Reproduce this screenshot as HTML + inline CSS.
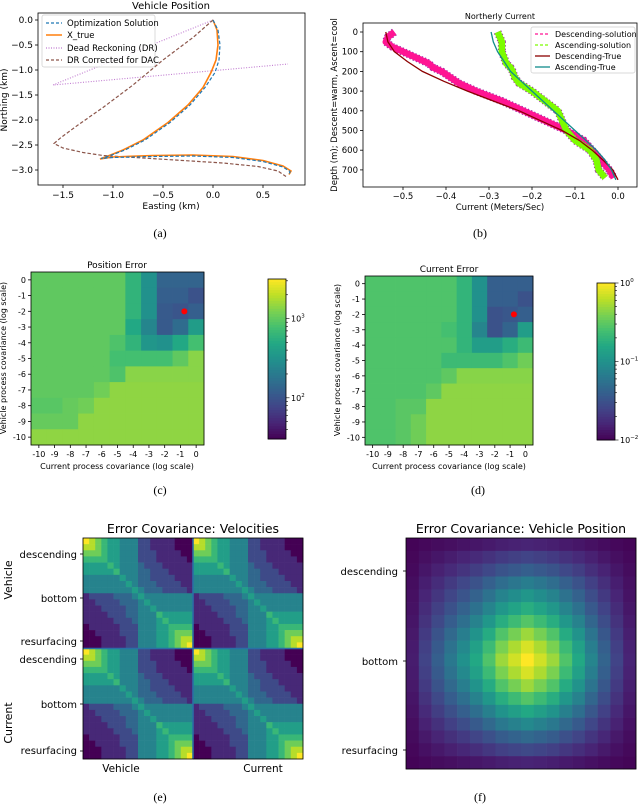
<!DOCTYPE html>
<html><head><meta charset="utf-8"><style>
body{margin:0;background:#fff}
svg{display:block;font-family:"DejaVu Sans","Liberation Sans",sans-serif}
.cap{font-family:"Liberation Serif",serif;font-size:12px}
</style></head><body>
<svg id="fig" width="640" height="806" viewBox="0 0 640 806">
<rect width="640" height="806" fill="#fff"/>
<!-- panel a -->
<g id="pa">
<text x="171" y="9" font-size="10" text-anchor="middle">Vehicle Position</text>
<g id="pa-marks"></g>
<rect x="38" y="13" width="267" height="172" fill="none" stroke="#000" stroke-width="0.8"/>
<g id="pa-ticks" font-size="9"></g>
<text x="171" y="209" font-size="9" text-anchor="middle">Easting (km)</text>
<text transform="translate(7,100) rotate(-90)" font-size="9" text-anchor="middle">Northing (km)</text>
<g>
<rect x="42" y="15" width="113" height="52" fill="#fff" fill-opacity="0.85" stroke="#ccc" stroke-width="0.7" rx="2"/>
<line x1="46" y1="23" x2="62" y2="23" stroke="#1f77b4" stroke-width="1.2" stroke-dasharray="3,2"/>
<text x="67" y="26" font-size="8.5">Optimization Solution</text>
<line x1="46" y1="35" x2="62" y2="35" stroke="#ff7f0e" stroke-width="1.5"/>
<text x="67" y="38" font-size="8.5">X_true</text>
<line x1="46" y1="48" x2="62" y2="48" stroke="#c07ad0" stroke-width="1.2" stroke-dasharray="1,1.5"/>
<text x="67" y="51" font-size="8.5">Dead Reckoning (DR)</text>
<line x1="46" y1="60" x2="62" y2="60" stroke="#8c564b" stroke-width="1.2" stroke-dasharray="3,2"/>
<text x="67" y="63" font-size="8.5">DR Corrected for DAC</text>
</g>
</g>
<text class="cap" x="160" y="237" text-anchor="middle">(a)</text>

<!-- panel b -->
<g id="pb">
<text x="500" y="19" font-size="8" text-anchor="middle">Northerly Current</text>
<g id="pb-marks"></g>
<rect x="363" y="23" width="274" height="164" fill="none" stroke="#000" stroke-width="0.8"/>
<g id="pb-ticks" font-size="8.5"></g>
<text x="500" y="210" font-size="8.5" text-anchor="middle">Current (Meters/Sec)</text>
<text transform="translate(337,105) rotate(-90)" font-size="8.5" text-anchor="middle">Depth (m); Descent=warm, Ascent=cool</text>
<g>
<rect x="531" y="27" width="104" height="46" fill="#fff" fill-opacity="0.85" stroke="#ccc" stroke-width="0.7" rx="2"/>
<line x1="535" y1="34" x2="550" y2="34" stroke="#ff1493" stroke-width="1.3" stroke-dasharray="3,2"/>
<text x="555" y="37" font-size="8">Descending-solution</text>
<line x1="535" y1="45" x2="550" y2="45" stroke="#7cfc00" stroke-width="1.3" stroke-dasharray="3,2"/>
<text x="555" y="48" font-size="8">Ascending-solution</text>
<line x1="535" y1="56" x2="550" y2="56" stroke="#8b0000" stroke-width="1.3"/>
<text x="555" y="59" font-size="8">Descending-True</text>
<line x1="535" y1="67" x2="550" y2="67" stroke="#118b8b" stroke-width="1.3"/>
<text x="555" y="70" font-size="8">Ascending-True</text>
</g>
</g>
<text class="cap" x="480" y="237" text-anchor="middle">(b)</text>

<!-- panel c -->
<g id="pc">
<text x="117" y="268" font-size="9" text-anchor="middle">Position Error</text>
<g id="pc-marks"></g>
<rect x="31" y="272" width="173" height="173" fill="none" stroke="#000" stroke-width="0.8"/>
<g id="pc-ticks" font-size="8"></g>
<text x="117" y="469" font-size="8" text-anchor="middle">Current process covariance (log scale)</text>
<text transform="translate(6,358) rotate(-90)" font-size="8" text-anchor="middle">Vehicle process covariance (log scale)</text>
<g id="pc-cbar"></g>
</g>
<text class="cap" x="160" y="494" text-anchor="middle">(c)</text>

<!-- panel d -->
<g id="pd">
<text x="449" y="272" font-size="9" text-anchor="middle">Current Error</text>
<g id="pd-marks"></g>
<rect x="365" y="276" width="168" height="169" fill="none" stroke="#000" stroke-width="0.8"/>
<g id="pd-ticks" font-size="8"></g>
<text x="449" y="469" font-size="8" text-anchor="middle">Current process covariance (log scale)</text>
<text transform="translate(340,360) rotate(-90)" font-size="8" text-anchor="middle">Vehicle process covariance (log scale)</text>
<g id="pd-cbar"></g>
</g>
<text class="cap" x="478" y="494" text-anchor="middle">(d)</text>

<!-- panel e -->
<g id="pe">
<text x="193" y="533" font-size="12.5" text-anchor="middle">Error Covariance: Velocities</text>
<g id="pe-marks"></g>
<rect x="83" y="538" width="220" height="221" fill="none" stroke="#000" stroke-width="0.8"/>
<g font-size="10" text-anchor="end">
<text x="77" y="558">descending</text><text x="77" y="602">bottom</text><text x="77" y="645">resurfacing</text>
<text x="77" y="663">descending</text><text x="77" y="708">bottom</text><text x="77" y="754">resurfacing</text>
</g>
<g stroke="#000" stroke-width="0.8"><line x1="80" x2="83" y1="554" y2="554"/><line x1="80" x2="83" y1="598" y2="598"/><line x1="80" x2="83" y1="641" y2="641"/><line x1="80" x2="83" y1="659" y2="659"/><line x1="80" x2="83" y1="704" y2="704"/><line x1="80" x2="83" y1="751" y2="751"/></g>
<text transform="translate(12,580) rotate(-90)" font-size="11" text-anchor="middle">Vehicle</text>
<text transform="translate(12,723) rotate(-90)" font-size="11" text-anchor="middle">Current</text>
<text x="121" y="772" font-size="10.5" text-anchor="middle">Vehicle</text>
<text x="263" y="772" font-size="10.5" text-anchor="middle">Current</text>
</g>
<text class="cap" x="160" y="801" text-anchor="middle">(e)</text>

<!-- panel f -->
<g id="pf">
<text x="521" y="533" font-size="12.5" text-anchor="middle">Error Covariance: Vehicle Position</text>
<g id="pf-marks"></g>
<rect x="406" y="538" width="230" height="231" fill="none" stroke="#000" stroke-width="0.8"/>
<g font-size="10" text-anchor="end">
<text x="398" y="575">descending</text><text x="398" y="665">bottom</text><text x="398" y="754">resurfacing</text>
</g>
<g stroke="#000" stroke-width="0.8"><line x1="403" x2="406" y1="571" y2="571"/><line x1="403" x2="406" y1="661" y2="661"/><line x1="403" x2="406" y1="750" y2="750"/></g>
</g>
<text class="cap" x="480" y="801" text-anchor="middle">(f)</text>
</svg>
<script>
// ---- panel a data (km) ----
const optEast = [0,0.05,0.07,0.06,0.02,-0.08,-0.23,-0.43,-0.68,-0.88,-1.04,-1.12,-1.0,-0.6,-0.2,0.2,0.5,0.7,0.77,0.76];
const optNorth = [0,-0.2,-0.5,-0.8,-1.05,-1.35,-1.7,-2.05,-2.4,-2.6,-2.72,-2.77,-2.75,-2.73,-2.72,-2.75,-2.83,-2.94,-3.03,-3.1];
const trueEast = [0,0.04,0.05,0.03,-0.02,-0.1,-0.25,-0.45,-0.7,-0.9,-1.05,-1.13,-1.0,-0.6,-0.2,0.2,0.5,0.7,0.78,0.76];
const trueNorth = [0,-0.2,-0.5,-0.8,-1.05,-1.35,-1.7,-2.05,-2.4,-2.6,-2.72,-2.78,-2.74,-2.71,-2.7,-2.73,-2.81,-2.92,-3.02,-3.09];
const drEast = [0,-1.6,0.75];
const drNorth = [0,-1.3,-0.88];
const dacEast = [0,-0.2,-0.5,-0.8,-1.1,-1.35,-1.52,-1.59,-1.5,-1.3,-1.1,-0.7,-0.3,0.1,0.45,0.65,0.73];
const dacNorth = [0,-0.35,-0.8,-1.3,-1.75,-2.1,-2.35,-2.47,-2.56,-2.65,-2.71,-2.76,-2.81,-2.86,-2.93,-3.02,-3.13];
const aXTicks = [-1.5,-1.0,-0.5,0.0,0.5];
const aYTicks = [0.0,-0.5,-1.0,-1.5,-2.0,-2.5,-3.0];
// ---- panel b data ----
const depthTrue = [0,50,100,150,200,250,300,350,400,450,500,550,600,650,700,750];
const descTrue = [-0.54,-0.535,-0.52,-0.49,-0.455,-0.405,-0.35,-0.29,-0.23,-0.18,-0.13,-0.09,-0.06,-0.035,-0.012,0.0];
const ascTrue = [-0.295,-0.29,-0.28,-0.265,-0.25,-0.225,-0.2,-0.175,-0.15,-0.125,-0.1,-0.075,-0.05,-0.03,-0.015,-0.005];
const depthSol = [0,25,50,75,100,130,160,180,200,230,260,300,350,400,450,500,550,600,650,700,740];
const descSol = [-0.52,-0.535,-0.54,-0.525,-0.5,-0.47,-0.44,-0.43,-0.41,-0.39,-0.37,-0.33,-0.27,-0.22,-0.17,-0.12,-0.08,-0.06,-0.04,-0.02,-0.01];
const ascSol = [-0.28,-0.275,-0.27,-0.27,-0.27,-0.265,-0.26,-0.25,-0.245,-0.24,-0.23,-0.2,-0.17,-0.14,-0.13,-0.12,-0.1,-0.065,-0.05,-0.045,-0.03];
const bXTicks = [-0.5,-0.4,-0.3,-0.2,-0.1,0.0];
const bYTicks = [0,100,200,300,400,500,600,700];
// ---- panel c/d data: log10 error, rows vehicle 0..-10, cols current -10..0 ----
const covTicks = [-10,-9,-8,-7,-6,-5,-4,-3,-2,-1,0];
const logPosErr = [
[3.0,3.0,3.0,3.0,3.0,3.0,2.79,2.49,2.13,2.13,2.13],
[3.0,3.0,3.0,3.0,3.0,3.0,2.79,2.49,2.09,2.09,1.99],
[3.0,3.0,3.0,3.0,3.0,3.0,2.79,2.49,2.05,2.01,2.09],
[3.0,3.0,3.0,3.0,3.0,3.0,2.69,2.39,2.05,2.19,2.59],
[3.0,3.0,3.0,3.0,3.0,2.93,2.79,2.53,2.49,2.69,2.89],
[3.0,3.0,3.0,3.0,3.0,2.89,2.89,2.89,2.89,3.0,3.14],
[3.0,3.0,3.0,3.0,3.0,2.93,3.14,3.14,3.14,3.14,3.14],
[3.0,3.0,3.0,3.0,3.06,3.16,3.16,3.16,3.16,3.16,3.16],
[2.97,2.97,3.02,3.06,3.16,3.16,3.16,3.16,3.16,3.16,3.16],
[3.02,3.02,3.02,3.16,3.16,3.16,3.16,3.16,3.16,3.16,3.16],
[3.16,3.16,3.16,3.16,3.16,3.16,3.16,3.16,3.16,3.16,3.16]];
const logCurErr = [
[-0.56,-0.56,-0.56,-0.56,-0.56,-0.56,-0.7,-1.0,-1.4,-1.4,-1.4],
[-0.56,-0.56,-0.56,-0.56,-0.56,-0.56,-0.7,-1.0,-1.4,-1.4,-1.5],
[-0.56,-0.56,-0.56,-0.56,-0.56,-0.56,-0.7,-1.0,-1.5,-1.46,-1.4],
[-0.56,-0.56,-0.56,-0.56,-0.56,-0.6,-0.7,-1.1,-1.5,-1.36,-0.9],
[-0.56,-0.56,-0.56,-0.56,-0.56,-0.56,-0.7,-0.9,-0.9,-0.76,-0.64],
[-0.56,-0.56,-0.56,-0.56,-0.56,-0.64,-0.64,-0.64,-0.64,-0.56,-0.44],
[-0.56,-0.56,-0.56,-0.56,-0.56,-0.5,-0.36,-0.36,-0.36,-0.36,-0.36],
[-0.56,-0.56,-0.56,-0.56,-0.5,-0.34,-0.34,-0.34,-0.34,-0.34,-0.34],
[-0.56,-0.56,-0.52,-0.52,-0.34,-0.34,-0.34,-0.34,-0.34,-0.34,-0.34],
[-0.56,-0.56,-0.52,-0.44,-0.34,-0.34,-0.34,-0.34,-0.34,-0.34,-0.34],
[-0.56,-0.56,-0.52,-0.44,-0.34,-0.34,-0.34,-0.34,-0.34,-0.34,-0.34]];
const bestCurrent = -0.75, bestVehicle = -2;
// ---- panel e data: velocity covariance block levels (0-9), first 9 rows; rest are reversed ----
const velBlockTop = [
"987655444221111000",
"887655444221111000",
"777655444222111100",
"666655444222111110",
"555565444322211111",
"555556444332221111",
"444444544332222111",
"444444454333222211",
"444444445433322221"];
// ---- panel f data: position covariance profiles ----
const posRowProfile = [0.1,0.2,0.3,0.42,0.52,0.62,0.73,0.85,0.94,1.0,0.94,0.85,0.73,0.6,0.47,0.34,0.22,0.1];
const posColProfile = [0.08,0.2,0.3,0.4,0.5,0.6,0.72,0.85,0.93,1.0,0.93,0.85,0.72,0.6,0.45,0.32,0.2,0.1];

const NS='http://www.w3.org/2000/svg';
function mk(tag, parent, attrs){const e=document.createElementNS(NS,tag);for(const k in attrs)e.setAttribute(k,attrs[k]);parent.appendChild(e);return e;}
const VIR=[[68,1,84],[72,36,117],[65,68,135],[53,95,141],[42,120,142],[33,145,140],[34,168,132],[68,191,112],[122,209,81],[189,223,38],[253,231,37]];
function viridis(t){t=Math.max(0,Math.min(1,t));const s=t*10,i=Math.min(9,Math.floor(s)),f=s-i;const a=VIR[i],b=VIR[i+1];return 'rgb('+a.map((v,k)=>Math.round(v+(b[k]-v)*f)).join(',')+')';}

// panel a
const xa=v=>213+v*100, ya=v=>20-v*50;
const gA=document.getElementById('pa-marks');
function line(g,xs,ys,fx,fy,attrs,name){
  const p=mk('polyline',g,attrs);
  p.setAttribute('points',xs.map((x,i)=>fx(x).toFixed(1)+','+fy(ys[i]).toFixed(1)).join(' '));
  p.setAttribute('fill','none');
  
  
  return p;}
line(gA,drEast,drNorth,xa,ya,{stroke:'#c07ad0','stroke-width':1.1,'stroke-dasharray':'1,1.6'},'dead-reckoning-line');
line(gA,dacEast,dacNorth,xa,ya,{stroke:'#8c564b','stroke-width':1.2,'stroke-dasharray':'3.5,2'},'dr-corrected-line');
line(gA,trueEast,trueNorth,xa,ya,{stroke:'#ff7f0e','stroke-width':1.6},'x-true-line');
line(gA,optEast,optNorth,xa,ya,{stroke:'#1f77b4','stroke-width':1.2,'stroke-dasharray':'3.5,2'},'optimization-solution-line');
const tA=document.getElementById('pa-ticks');
aXTicks.forEach(v=>{const x=xa(v);mk('line',tA,{x1:x,x2:x,y1:185,y2:188,stroke:'#000','stroke-width':0.8});
 const t=mk('text',tA,{x:x,y:198,'text-anchor':'middle'});t.textContent=v.toFixed(1).replace('-','\u2212');
 
 });
aYTicks.forEach(v=>{const y=ya(v);mk('line',tA,{x1:35,x2:38,y1:y,y2:y,stroke:'#000','stroke-width':0.8});
 const t=mk('text',tA,{x:33,y:y+3,'text-anchor':'end'});t.textContent=v.toFixed(1).replace('-','\u2212');
 
 });

// panel b
const xb=v=>618+v*430, yb=d=>32+d*0.197;
const gB=document.getElementById('pb-marks');
const cpB=mk('clipPath',gB,{id:'clipb'});mk('rect',cpB,{x:363,y:23,width:274,height:164});
const gBc=mk('g',gB,{'clip-path':'url(#clipb)'});
line(gBc,descSol,depthSol,xb,yb,{stroke:'#9a2aa8','stroke-width':8,'stroke-linejoin':'round','stroke-dasharray':'1.5,2'},'descending-solution-edge');
line(gBc,descSol,depthSol,xb,yb,{stroke:'#ff1493','stroke-width':6.5,'stroke-linejoin':'round'},'descending-solution-line');
line(gBc,ascSol,depthSol,xb,yb,{stroke:'#9a2aa8','stroke-width':8,'stroke-linejoin':'round','stroke-dasharray':'1.5,2'},'ascending-solution-edge');
line(gBc,ascSol,depthSol,xb,yb,{stroke:'#7cfc00','stroke-width':6.5,'stroke-linejoin':'round'},'ascending-solution-line');
line(gBc,descTrue,depthTrue,xb,yb,{stroke:'#8b0000','stroke-width':1.3},'descending-true-line');
line(gBc,ascTrue,depthTrue,xb,yb,{stroke:'#118b8b','stroke-width':1.3},'ascending-true-line');
const tB=document.getElementById('pb-ticks');
bXTicks.forEach(v=>{const x=xb(v);mk('line',tB,{x1:x,x2:x,y1:187,y2:190,stroke:'#000','stroke-width':0.8});
 const t=mk('text',tB,{x:x,y:199,'text-anchor':'middle'});t.textContent=v.toFixed(1).replace('-','\u2212');
 
 });
bYTicks.forEach(v=>{const y=yb(v);mk('line',tB,{x1:360,x2:363,y1:y,y2:y,stroke:'#000','stroke-width':0.8});
 const t=mk('text',tB,{x:358,y:y+3,'text-anchor':'end'});t.textContent=String(v);
 
 });

// heatmaps c,d
function heat(gid,tid,cbid,data,x0,y0,w,h,lmin,lmax,cb,cbTicks){
  const g=document.getElementById(gid),n=covTicks.length,cw=w/n,ch=h/n;
  data.forEach((row,r)=>row.forEach((v,c)=>{
    const rc=mk('rect',g,{x:x0+c*cw,y:y0+r*ch,width:cw+0.4,height:ch+0.4,fill:viridis((v-lmin)/(lmax-lmin))});
    
    }));
  const xc=v=>x0+(v+10+0.5)*cw, yc=v=>y0+(-v+0.5)*ch;
  const dot=mk('circle',g,{cx:xc(bestCurrent),cy:yc(bestVehicle),r:3,fill:'#ff0000'});
  
  
  const t=document.getElementById(tid);
  covTicks.forEach(v=>{
    mk('line',t,{x1:xc(v),x2:xc(v),y1:y0+h,y2:y0+h+3,stroke:'#000','stroke-width':0.8});
    const a=mk('text',t,{x:xc(v),y:y0+h+12,'text-anchor':'middle'});a.textContent=String(v);
    
    
    mk('line',t,{x1:x0-3,x2:x0,y1:yc(v),y2:yc(v),stroke:'#000','stroke-width':0.8});
    const b=mk('text',t,{x:x0-5,y:yc(v)+3,'text-anchor':'end'});b.textContent=String(v);
    
    });
  const cg=document.getElementById(cbid);
  const [cx,cy,cwid,chh,cmin,cmax]=cb;
  for(let i=0;i<60;i++){mk('rect',cg,{x:cx,y:cy+chh*(1-(i+1)/60),width:cwid,height:chh/60+0.5,fill:viridis((i+0.5)/60)});}
  mk('rect',cg,{x:cx,y:cy,width:cwid,height:chh,fill:'none',stroke:'#000','stroke-width':0.8});
  const ycb=l=>cy+chh*(cmax-l)/(cmax-cmin);
  for(let d=Math.floor(cmin);d<=Math.ceil(cmax);d++)for(let m=1;m<10;m++){const l=d+Math.log10(m);if(l<cmin-1e-6||l>cmax+1e-6)continue;
    mk('line',cg,{x1:cx+cwid,x2:cx+cwid+(m==1?3.5:2),y1:ycb(l),y2:ycb(l),stroke:'#000','stroke-width':0.6});}
  cbTicks.forEach(([l,lab])=>{const tx=mk('text',cg,{x:cx+cwid+5,y:ycb(l)+3,'font-size':8});
    tx.innerHTML='10<tspan dy="-4" font-size="5.5">'+lab+'</tspan>';
    
    });
}
heat('pc-marks','pc-ticks','pc-cbar',logPosErr,31,272,173,173,1.48,3.5,[268,279,18,160,1.48,3.5],[[3,'3'],[2,'2']]);
heat('pd-marks','pd-ticks','pd-cbar',logCurErr,365,276,168,169,-2,0,[597,283,18,157,-2,0],[[0,'0'],[-1,'\u22121'],[-2,'\u22122']]);

// panel e
const velRows=velBlockTop.concat(velBlockTop.slice().reverse().map(s=>s.split('').reverse().join('')));
(function(){const g=document.getElementById('pe-marks');const N=velRows.length,x0=83,y0=538,bw=110,bh=110.5,cw=bw/N,ch=bh/N;
 for(let br=0;br<2;br++)for(let bc=0;bc<2;bc++)velRows.forEach((row,r)=>row.split('').forEach((ch2,c)=>{
   const rc=mk('rect',g,{x:x0+bc*bw+c*cw,y:y0+br*bh+r*ch,width:cw+0.3,height:ch+0.3,fill:viridis(+ch2/9)});
   
   }));
 mk('line',g,{x1:x0,x2:x0+2*bw,y1:y0+bh,y2:y0+bh,stroke:'#2a6fa5','stroke-width':1.6});
 mk('line',g,{x1:x0+bw,x2:x0+bw,y1:y0,y2:y0+2*bh,stroke:'#2a6fa5','stroke-width':1.6});})();

// panel f
(function(){const g=document.getElementById('pf-marks');const x0=406,y0=538,cw=230/posColProfile.length,ch=231/posRowProfile.length;
 posRowProfile.forEach((rv,r)=>posColProfile.forEach((cv,c)=>{
   const rc=mk('rect',g,{x:x0+c*cw,y:y0+r*ch,width:cw+0.3,height:ch+0.3,fill:viridis(rv*cv)});
   
   }));})();
</script>
</body></html>
